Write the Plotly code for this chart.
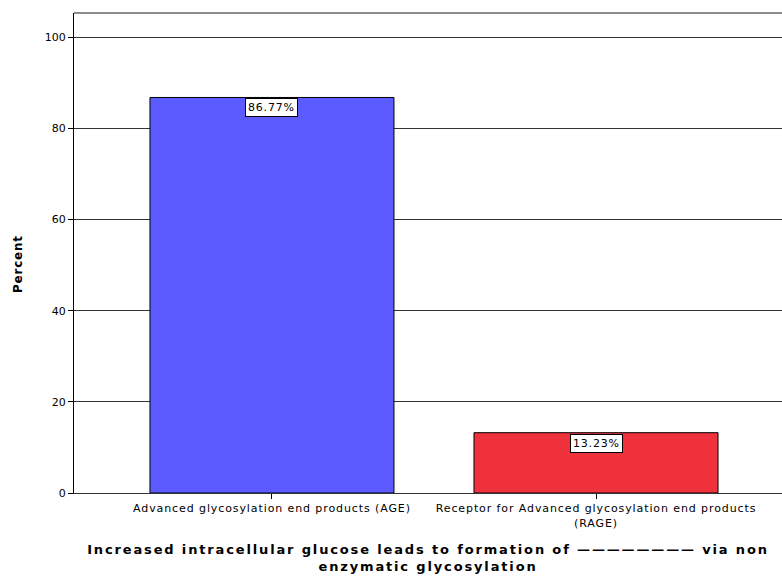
import plotly.graph_objects as go

categories = ["Advanced glycosylation end products (AGE)",
              "Receptor for Advanced glycosylation end products<br>(RAGE)"]
percent = [86.77, 13.23]
labels = ["86.77%", "13.23%"]
colors = ["#5B5BFF", "#F0323C"]
x_title = "Increased intracellular glucose leads to formation of ———————— via non<br>enzymatic glycosylation"
y_title = "Percent"

FONT = "DejaVu Sans, Arial"


def spaced(t, px):
    return "<br>".join(f'<span style="letter-spacing:{px}px">{p}</span>' for p in t.split("<br>"))


fig = go.Figure()
fig.add_trace(go.Bar(
    x=[0, 1], y=percent, width=0.753,
    marker=dict(color=colors, line=dict(color="black", width=1)),
    hoverinfo="skip",
))
for i, (v, t) in enumerate(zip(percent, labels)):
    fig.add_annotation(x=i, y=v, text=spaced(t, 0.8), showarrow=False, yanchor="top", yshift=-1,
                       bgcolor="white", bordercolor="black", borderwidth=1, borderpad=2,
                       font=dict(family=FONT, size=11, color="black"))

# y-axis title placed as annotation to match reference position
fig.add_annotation(xref="paper", yref="paper", x=-0.079, y=0.477, text="<b>" + spaced(y_title, 0.8) + "</b>",
                   textangle=-90, showarrow=False, xanchor="center", yanchor="middle",
                   font=dict(family=FONT, size=12, color="black"))

fig.update_layout(
    width=782, height=576,
    margin=dict(l=74, r=0, t=13, b=83),
    plot_bgcolor="white", paper_bgcolor="white",
    showlegend=False,
    font=dict(family=FONT, size=11, color="black"),
    xaxis=dict(
        range=[-0.611, 1.574], automargin=False,
        tickmode="array", tickvals=[0, 1], ticktext=[spaced(c, 0.9) for c in categories],
        ticks="outside", ticklen=5, tickcolor="black",
        showline=True, linecolor="#333", linewidth=1, mirror=False,
        showgrid=False, zeroline=False,
        tickfont=dict(size=11),
        title=dict(text="<b>" + spaced(x_title, 1.85) + "</b>",
                   font=dict(size=13), standoff=16),
    ),
    yaxis=dict(
        range=[0, 105.3], automargin=False,
        tickvals=[0, 20, 40, 60, 80, 100],
        ticks="outside", ticklen=5, tickcolor="black",
        showline=True, linecolor="black", linewidth=1,
        showgrid=True, gridcolor="#333", gridwidth=1,
        zeroline=False,
        tickfont=dict(size=11),
    ),
)
fig.add_shape(type="line", xref="paper", yref="paper", x0=0, x1=1, y0=1, y1=1,
              line=dict(color="#666", width=1.5))
fig.write_html("out.html", config={"displayModeBar": False},
               post_script="document.body.style.margin='0';document.body.style.overflow='hidden';")
